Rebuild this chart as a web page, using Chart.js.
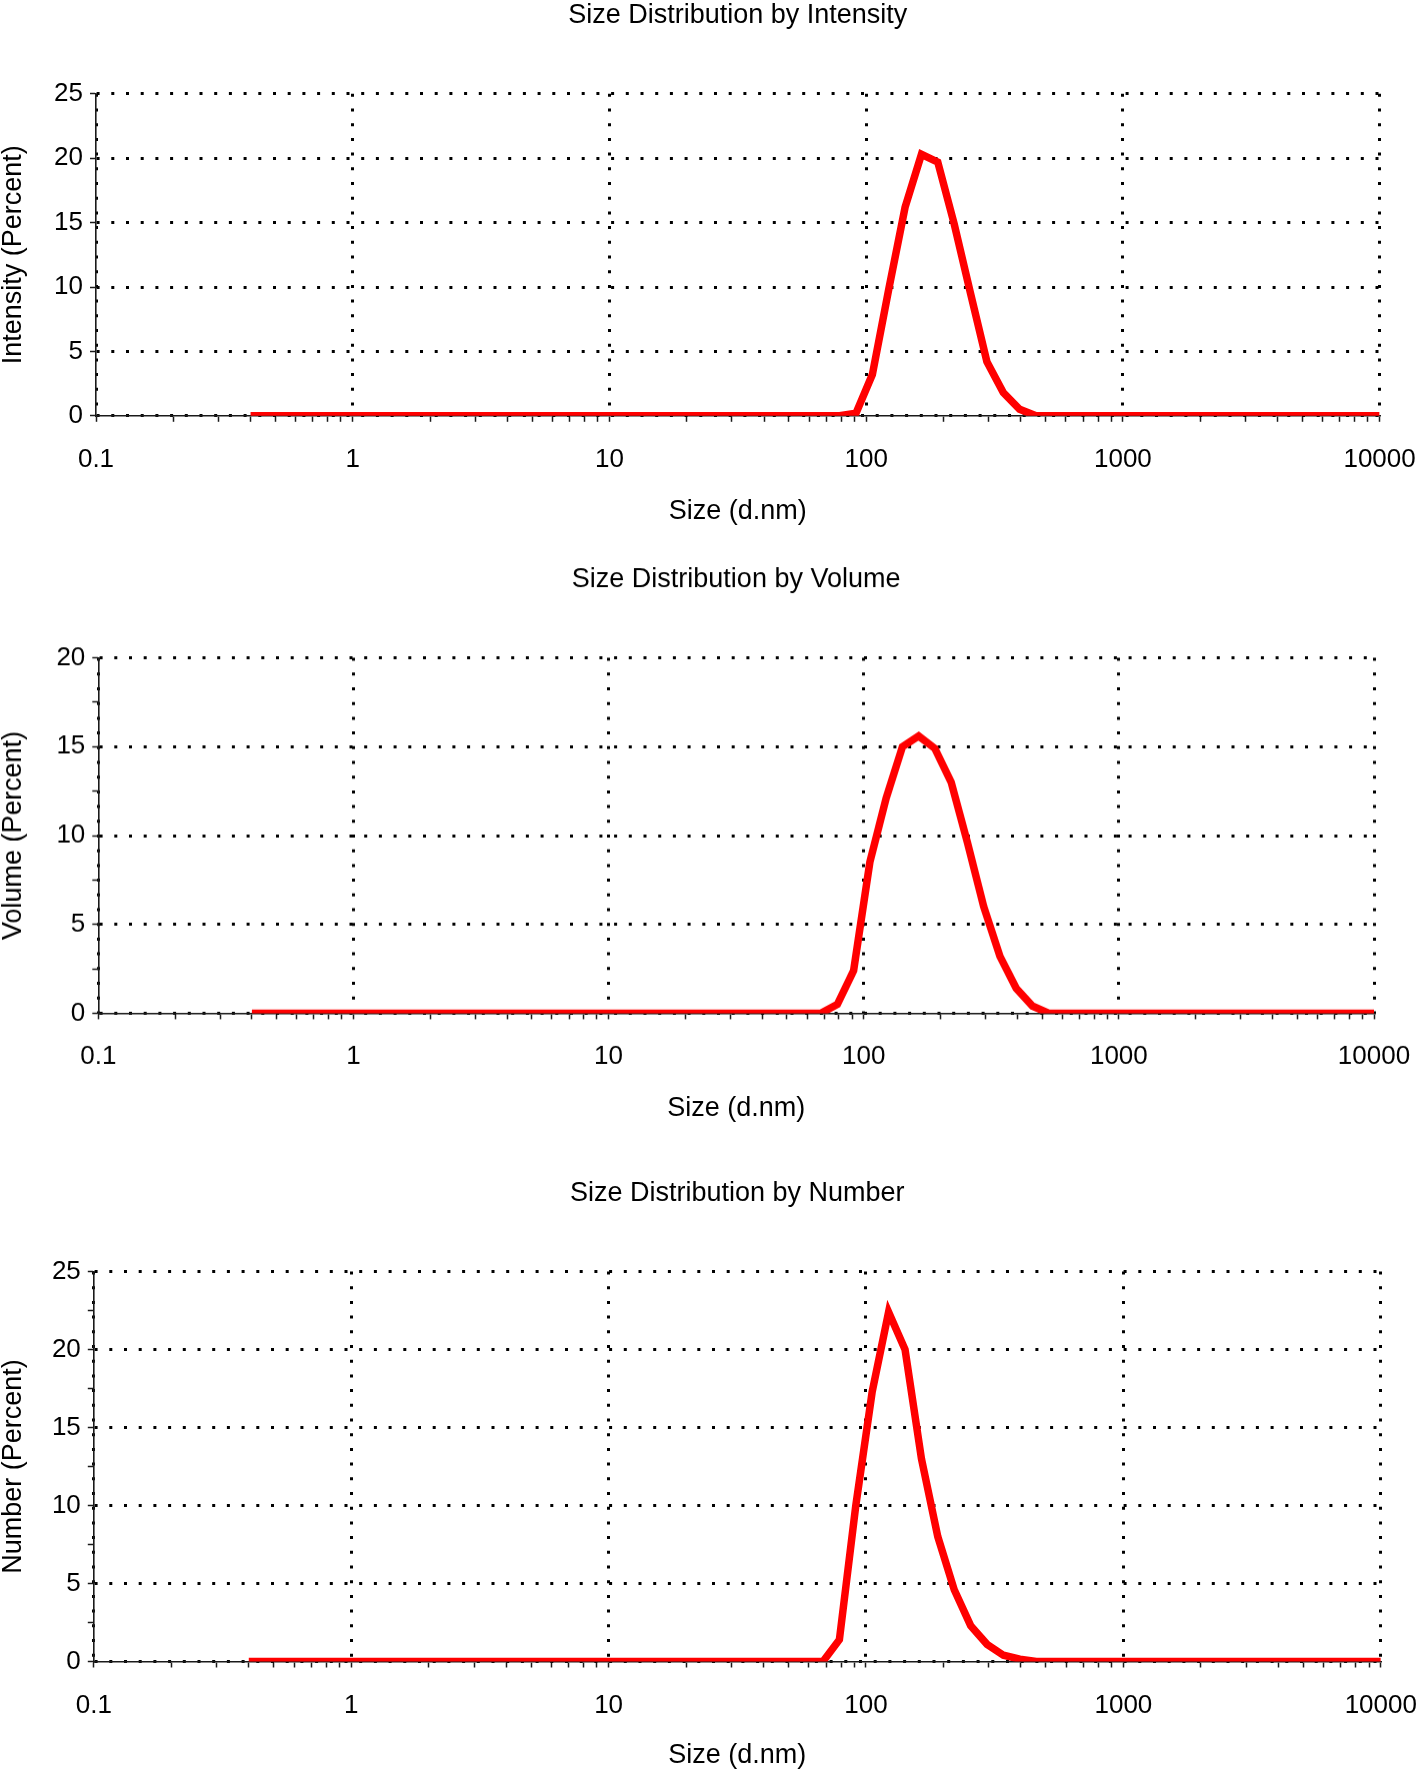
<!DOCTYPE html>
<html>
<head>
<meta charset="utf-8">
<script src="https://cdn.jsdelivr.net/npm/chart.js@4.4.1/dist/chart.umd.min.js"></script>
<style>
  body { margin: 0; background: #fff; }
  .panel { position: absolute; left: 0; width: 1418px; }
</style>
</head>
<body>
<div class="panel" style="top:-10px;height:538px"><canvas id="intensityGraph"></canvas></div>
<div class="panel" style="top:528px;height:595.5px"><canvas id="volumeGraph"></canvas></div>
<div class="panel" style="top:1123.5px;height:648.2px"><canvas id="numberGraph"></canvas></div>
<script>
// Tamaños de partícula (d.nm) de cada canal del equipo
const sizes = [
    0.4, 0.4632, 0.5365, 0.6213, 0.7195, 0.8332, 0.9649, 1.117, 1.294, 1.499,
    1.736, 2.01, 2.328, 2.696, 3.122, 3.615, 4.187, 4.849, 5.615, 6.503,
    7.531, 8.721, 10.1, 11.7, 13.54, 15.69, 18.17, 21.04, 24.36, 28.21,
    32.67, 37.84, 43.82, 50.75, 58.77, 68.06, 78.82, 91.28, 105.7, 122.4,
    141.8, 164.2, 190.1, 220.2, 255.0, 295.3, 342.0, 396.1, 458.7, 531.2,
    615.1, 712.4, 825.0, 955.4, 1106, 1281, 1484, 1718, 1990, 2305,
    2669, 3091, 3580, 4145, 4801, 5560, 6439, 7456, 8635, 10000,
];

const intensity = [
    0, 0, 0, 0, 0, 0, 0, 0, 0, 0,
    0, 0, 0, 0, 0, 0, 0, 0, 0, 0,
    0, 0, 0, 0, 0, 0, 0, 0, 0, 0,
    0, 0, 0, 0, 0, 0, 0, 0.2, 3.2, 9.8,
    16.2, 20.3, 19.7, 14.9, 9.5, 4.2, 1.8, 0.5, 0, 0,
    0, 0, 0, 0, 0, 0, 0, 0, 0, 0,
    0, 0, 0, 0, 0, 0, 0, 0, 0, 0,
];

const volume = [
    0, 0, 0, 0, 0, 0, 0, 0, 0, 0,
    0, 0, 0, 0, 0, 0, 0, 0, 0, 0,
    0, 0, 0, 0, 0, 0, 0, 0, 0, 0,
    0, 0, 0, 0, 0, 0, 0.5, 2.4, 8.5, 12.1,
    15.0, 15.6, 14.9, 13.0, 9.6, 6.0, 3.2, 1.4, 0.4, 0,
    0, 0, 0, 0, 0, 0, 0, 0, 0, 0,
    0, 0, 0, 0, 0, 0, 0, 0, 0, 0,
];

const number = [
    0, 0, 0, 0, 0, 0, 0, 0, 0, 0,
    0, 0, 0, 0, 0, 0, 0, 0, 0, 0,
    0, 0, 0, 0, 0, 0, 0, 0, 0, 0,
    0, 0, 0, 0, 0, 0, 1.4, 10.0, 17.3, 22.4,
    20.0, 13.0, 8.0, 4.6, 2.3, 1.1, 0.4, 0.15, 0, 0,
    0, 0, 0, 0, 0, 0, 0, 0, 0, 0,
    0, 0, 0, 0, 0, 0, 0, 0, 0, 0,
];

// Etiquetas de los ejes
const xTickLabels = [0.1, 1, 10, 100, 1000, 10000];
const yTicksIntensity = [0, 5, 10, 15, 20, 25];
const yTicksVolume = [0, 5, 10, 15, 20];
const yTicksNumber = [0, 5, 10, 15, 20, 25];

const lineColor = '#ff0000';
const axisColor = '#1a1a1a';

// Estilos globales
Chart.defaults.font.family = "'Liberation Sans', Arial, sans-serif";
Chart.defaults.font.size = 26;
Chart.defaults.color = '#000';
Chart.defaults.animation = false;
Chart.defaults.plugins.legend.display = false;
Chart.defaults.plugins.tooltip.enabled = false;

// marcas menores del eje logarítmico: 2..9 de cada década
const xTicks = [];
xTickLabels.forEach((d, i) => {
    xTicks.push({ value: d, major: true });
    if (i < xTickLabels.length - 1) {
        for (let k = 2; k <= 9; k++) xTicks.push({ value: +(d * k).toPrecision(3), major: false });
    }
});

function makeChart(canvas, title, yTitle, values, yTicks, box) {
    const yMax = yTicks[yTicks.length - 1];
    // solo las líneas mayores de la rejilla se ven (punteadas)
    const dotted = ctx => ctx.tick && ctx.tick.major ? '#000' : 'rgba(0,0,0,0)';
    const gridStyle = {
        color: dotted,
        lineWidth: 3,
        tickColor: axisColor,
        tickWidth: 1.5,
        tickLength: 6,
        tickBorderDash: [],
    };
    const borderStyle = { display: true, color: axisColor, width: 1.6, dash: [3, 11.7] };

    return new Chart(document.getElementById(canvas), {
        type: 'line',
        data: {
            datasets: [{
                data: sizes.map((s, i) => ({ x: s, y: values[i] })),
                borderColor: lineColor,
                borderWidth: 7.5,
                pointRadius: 0,
                tension: 0,
            }]
        },
        options: {
            responsive: true,
            maintainAspectRatio: false,
            layout: { padding: 0 },
            plugins: {
                title: {
                    display: true,
                    text: title,
                    fullSize: false,
                    color: '#000',
                    font: { size: 27, weight: 'normal', lineHeight: 1.2 },
                    padding: { top: box.titleTop, bottom: box.titleBottom },
                }
            },
            scales: {
                x: {
                    type: 'logarithmic',
                    min: 0.1,
                    max: 10000,
                    afterBuildTicks: scale => { scale.ticks = xTicks.map(t => ({ ...t })); },
                    afterFit: scale => {
                        scale.height = box.xHeight;
                        scale.paddingLeft = 0;
                        scale.paddingRight = box.padRight;
                    },
                    ticks: {
                        autoSkip: false,
                        maxRotation: 0,
                        padding: 22.3,
                        font: { size: 26, lineHeight: 1.2 },
                        callback: (v, i, ticks) => ticks[i].major ? String(v) : '',
                    },
                    grid: gridStyle,
                    border: borderStyle,
                    title: {
                        display: true,
                        text: 'Size (d.nm)',
                        color: '#000',
                        font: { size: 27, lineHeight: 1.2 },
                        padding: 0,
                    },
                },
                y: {
                    min: 0,
                    max: yMax,
                    afterBuildTicks: scale => {
                        const t = [];
                        for (let v = 0; v <= yMax; v += 2.5) t.push({ value: v, major: yTicks.includes(v) });
                        scale.ticks = t;
                    },
                    afterFit: scale => { scale.width = box.yWidth; },
                    ticks: {
                        padding: 7,
                        font: { size: 26 },
                        callback: (v, i, ticks) => ticks[i].major ? String(v) : '',
                    },
                    grid: gridStyle,
                    border: borderStyle,
                    title: {
                        display: true,
                        text: yTitle,
                        color: '#000',
                        font: { size: 27, lineHeight: 1 },
                        padding: 0,
                    },
                }
            }
        }
    });
}

makeChart('intensityGraph', 'Size Distribution by Intensity', 'Intensity (Percent)', intensity, yTicksIntensity,
    { titleTop: 9.7, titleBottom: 61.7, yWidth: 96, xHeight: 112.2, padRight: 38.4 });
makeChart('volumeGraph', 'Size Distribution by Volume', 'Volume (Percent)', volume, yTicksVolume,
    { titleTop: 35.5, titleBottom: 61.7, yWidth: 98.3, xHeight: 111.1, padRight: 44 });
makeChart('numberGraph', 'Size Distribution by Number', 'Number (Percent)', number, yTicksNumber,
    { titleTop: 53.6, titleBottom: 61.5, yWidth: 93.8, xHeight: 110.7, padRight: 37.2 });
</script>
</body>
</html>
